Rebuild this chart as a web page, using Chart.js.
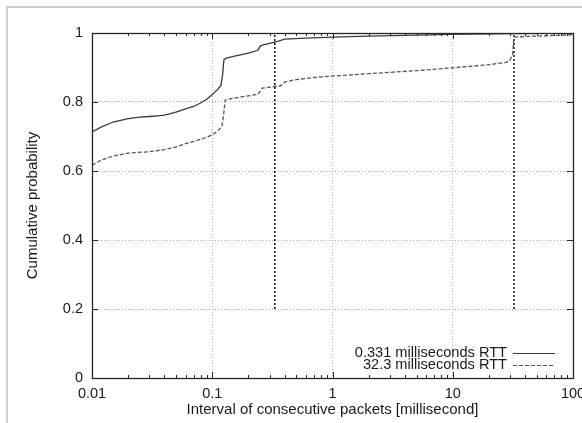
<!DOCTYPE html>
<html>
<head>
    <title>Interval of consecutive packets CDF</title>
    <script src="https://cdn.jsdelivr.net/npm/chart.js@4/dist/chart.umd.min.js"></script>
    <style>
        body {
            margin: 0;
            background: #fff;
            font-family: 'Liberation Sans', Arial, sans-serif;
        }
        #frame {
            position: absolute;
            left: 6px;
            top: 6px;
            width: 620px;
            height: 460px;
            border: 2px solid #cfcfcf;
        }
        #wrap {
            position: absolute;
            left: 0;
            top: 0;
            width: 582px;
            height: 423px;
        }
    </style>
</head>
<body>
    <div id="frame"></div>
    <div id="wrap"><canvas id="cdf"></canvas></div>

    <script>
        // axis ticks
        const xTicks = [0.01, 0.1, 1, 10, 100];
        const xTickLabels = ['0.01', '0.1', '1', '10', '100'];
        const yTicks = [0, 0.2, 0.4, 0.6, 0.8, 1];
        const yTickLabels = ['0', '0.2', '0.4', '0.6', '0.8', '1'];

        // 0.331 ms RTT (solid)
        const fastX = [0.01, 0.012, 0.015, 0.02, 0.025, 0.03, 0.035, 0.04, 0.045, 0.05, 0.06, 0.07, 0.08, 0.09,
                       0.1, 0.11, 0.118, 0.122, 0.125, 0.13, 0.15, 0.2, 0.24, 0.25, 0.27, 0.3, 0.35, 0.4, 0.6,
                       1, 2, 5, 10, 30, 100];
        const fastY = [0.713, 0.728, 0.742, 0.752, 0.756, 0.758, 0.760, 0.762, 0.766, 0.771, 0.780, 0.787, 0.797, 0.808,
                       0.822, 0.835, 0.848, 0.88, 0.922, 0.927, 0.932, 0.942, 0.950, 0.962, 0.966, 0.970, 0.976, 0.982, 0.985,
                       0.988, 0.991, 0.994, 0.996, 0.998, 1.0];

        // 32.3 ms RTT (dashed)
        const slowX = [0.01, 0.012, 0.015, 0.02, 0.03, 0.04, 0.045, 0.05, 0.06, 0.07, 0.08, 0.09, 0.1, 0.11, 0.12,
                       0.124, 0.128, 0.13, 0.15, 0.2, 0.24, 0.26, 0.3, 0.37, 0.4, 0.5, 0.7, 1, 2, 5, 10, 20, 28,
                       30, 31.5, 32.3, 40, 60, 100];
        const slowY = [0.617, 0.632, 0.643, 0.652, 0.656, 0.662, 0.666, 0.670, 0.679, 0.686, 0.692, 0.698, 0.705, 0.715, 0.728,
                       0.76, 0.805, 0.807, 0.811, 0.818, 0.822, 0.840, 0.843, 0.847, 0.858, 0.865, 0.871, 0.875, 0.882, 0.891,
                       0.899, 0.908, 0.915, 0.922, 0.94, 0.988, 0.99, 0.992, 0.995];

        // RTT marker lines
        const rttValues = [0.331, 32.3];
        const rttSpan = [0.2, 1];

        const seriesLabels = ['0.331 milliseconds RTT', '32.3 milliseconds RTT'];

        const toPoints = (xs, ys) => xs.map((x, i) => ({x: x, y: ys[i]}));

        const textFont = "'Liberation Sans', Arial, sans-serif";

        // gnuplot-style box with inward ticks
        const boxPlugin = {
            id: 'box',
            afterDatasetsDraw(chart) {
                const {ctx, chartArea: a, scales} = chart;
                const xs = scales.x, ys = scales.y;
                ctx.save();
                ctx.strokeStyle = '#262626';
                ctx.lineWidth = 1;
                ctx.beginPath();
                xTicks.forEach((v, i) => {
                    const px = Math.round(xs.getPixelForValue(v)) + 0.5;
                    ctx.moveTo(px, a.bottom); ctx.lineTo(px, a.bottom - 6);
                    ctx.moveTo(px, a.top); ctx.lineTo(px, a.top + 6);
                    if (i < xTicks.length - 1) {
                        for (let k = 2; k < 10; k++) {
                            const mx = Math.round(xs.getPixelForValue(v * k)) + 0.5;
                            ctx.moveTo(mx, a.bottom); ctx.lineTo(mx, a.bottom - 3);
                            ctx.moveTo(mx, a.top); ctx.lineTo(mx, a.top + 3);
                        }
                    }
                });
                yTicks.forEach(v => {
                    const py = Math.round(ys.getPixelForValue(v)) + 0.5;
                    ctx.moveTo(a.left, py); ctx.lineTo(a.left + 6, py);
                    ctx.moveTo(a.right, py); ctx.lineTo(a.right - 6, py);
                });
                ctx.stroke();
                ctx.lineWidth = 1.3;
                ctx.strokeRect(Math.round(a.left) + 0.5, Math.round(a.top) + 0.5,
                               Math.round(a.right - a.left), Math.round(a.bottom - a.top));
                ctx.restore();
            }
        };

        // legend: text right-aligned, sample on the right
        const keyPlugin = {
            id: 'key',
            afterDraw(chart) {
                const {ctx, chartArea: a} = chart;
                ctx.save();
                ctx.font = '14.6px ' + textFont;
                ctx.fillStyle = '#1a1a1a';
                ctx.textAlign = 'right';
                ctx.textBaseline = 'middle';
                for (let i = 0; i < 2; i++) {
                    const ds = chart.data.datasets[i];
                    const y = a.bottom - 25 + i * 12;
                    ctx.fillText(ds.label, a.right - 66, y);
                    ctx.strokeStyle = ds.borderColor;
                    ctx.lineWidth = 1;
                    ctx.setLineDash(ds.borderDash || []);
                    ctx.beginPath();
                    ctx.moveTo(a.right - 60, y + 0.5);
                    ctx.lineTo(a.right - 18, y + 0.5);
                    ctx.stroke();
                }
                ctx.restore();
            }
        };

        const gridColor = (ctx, ends) =>
            ends.includes(ctx.tick.value) ? 'rgba(0,0,0,0)' : '#a8a8a8';

        new Chart(document.getElementById('cdf'), {
            type: 'line',
            data: {
                datasets: [
                    {
                        label: seriesLabels[0],
                        data: toPoints(fastX, fastY),
                        borderColor: '#3a3a3a',
                        borderWidth: 1.3,
                        pointRadius: 0,
                        tension: 0
                    },
                    {
                        label: seriesLabels[1],
                        data: toPoints(slowX, slowY),
                        borderColor: '#555555',
                        borderWidth: 1.3,
                        borderDash: [4, 2],
                        pointRadius: 0,
                        tension: 0
                    },
                    {
                        label: 'rtt-a',
                        data: rttSpan.map(y => ({x: rttValues[0], y: y})),
                        borderColor: '#111',
                        borderWidth: 1.5,
                        borderDash: [2, 2],
                        pointRadius: 0
                    },
                    {
                        label: 'rtt-b',
                        data: rttSpan.map(y => ({x: rttValues[1], y: y})),
                        borderColor: '#111',
                        borderWidth: 1.5,
                        borderDash: [2, 2],
                        pointRadius: 0
                    }
                ]
            },
            options: {
                responsive: true,
                maintainAspectRatio: false,
                animation: false,
                layout: {
                    padding: {left: 10, top: 33, right: 9, bottom: 0}
                },
                plugins: {
                    legend: {display: false},
                    tooltip: {enabled: false}
                },
                scales: {
                    x: {
                        type: 'logarithmic',
                        min: 0.01,
                        max: 100,
                        afterBuildTicks: s => { s.ticks = xTicks.map(v => ({value: v})); },
                        afterFit: s => { s.height = 45; s.paddingLeft = 0; s.paddingRight = 0; },
                        ticks: {
                            callback: (v, i) => xTickLabels[i],
                            maxRotation: 0,
                            autoSkip: false,
                            padding: 7,
                            color: '#1a1a1a',
                            font: {family: textFont, size: 14.5}
                        },
                        grid: {
                            color: c => gridColor(c, [0.01, 100]),
                            drawTicks: false,
                            lineWidth: 1
                        },
                        border: {display: false, dash: [1, 2]},
                        title: {
                            display: true,
                            text: 'Interval of consecutive packets [millisecond]',
                            color: '#1a1a1a',
                            font: {family: textFont, size: 15},
                            padding: {top: 0, bottom: 4}
                        }
                    },
                    y: {
                        min: 0,
                        max: 1,
                        afterBuildTicks: s => { s.ticks = yTicks.map(v => ({value: v})); },
                        afterFit: s => { s.width = 82; s.paddingTop = 0; s.paddingBottom = 0; },
                        ticks: {
                            callback: (v, i) => yTickLabels[i],
                            padding: 9,
                            color: '#1a1a1a',
                            font: {family: textFont, size: 14.5}
                        },
                        grid: {
                            color: c => gridColor(c, [0, 1]),
                            drawTicks: false,
                            lineWidth: 1
                        },
                        border: {display: false, dash: [1, 2]},
                        title: {
                            display: true,
                            text: 'Cumulative probability',
                            color: '#1a1a1a',
                            font: {family: textFont, size: 15},
                            padding: {top: 14, bottom: 0}
                        }
                    }
                }
            },
            plugins: [boxPlugin, keyPlugin]
        });
    </script>
</body>
</html>
